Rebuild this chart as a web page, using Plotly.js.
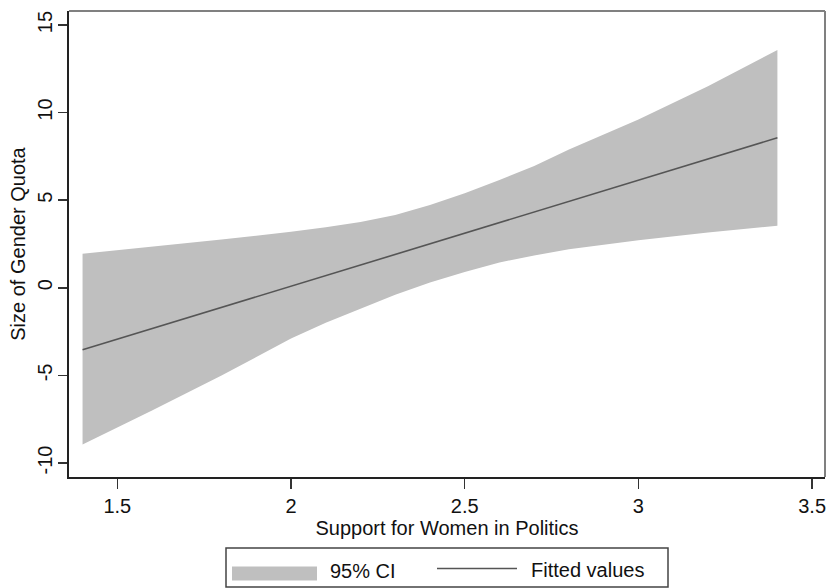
<!DOCTYPE html>
<html>
<head>
<meta charset="utf-8">
<script src="https://cdn.plot.ly/plotly-3.0.1.min.js"></script>
<style>html,body{margin:0;padding:0;background:#fff;}#chart{width:832px;height:588px;}</style>
</head>
<body>
<div id="chart"></div>
<script>
// Data
const xs       = [1.4, 1.6, 1.8, 2.0, 2.1, 2.2, 2.3, 2.4, 2.5, 2.6, 2.7, 2.8, 3.0, 3.2, 3.4];
const ciLower  = [-8.95, -7.0, -5.0, -2.9, -2.0, -1.2, -0.4, 0.3, 0.9, 1.45, 1.85, 2.2, 2.72, 3.16, 3.54];
const ciUpper  = [1.95, 2.35, 2.75, 3.2, 3.45, 3.75, 4.15, 4.73, 5.4, 6.15, 6.95, 7.9, 9.6, 11.5, 13.58];
const fitted   = [-3.54, -2.33, -1.12, 0.09, 0.7, 1.3, 1.9, 2.51, 3.12, 3.72, 4.32, 4.93, 6.14, 7.35, 8.56];
const xTickVals = [1.5, 2, 2.5, 3, 3.5];
const xTickText = ["1.5", "2", "2.5", "3", "3.5"];
const yTickVals = [-10, -5, 0, 5, 10, 15];
const yTickText = ["-10", "-5", "0", "5", "10", "15"];
const legendLabels = ["95% CI", "Fitted values"];

const FONT = "Liberation Sans, Arial, Helvetica, sans-serif";
const FS = 20;
const L = 69, R = 825, T = 11, B = 477;
const W = R - L, H = B - T;
const px = x => (x - L) / W;
const py = y => (B - y) / H;

const band = {
  x: xs.concat(xs.slice().reverse()),
  y: ciUpper.concat(ciLower.slice().reverse()),
  type: 'scatter', mode: 'lines', fill: 'toself',
  fillcolor: '#bfbfbf', line: {width: 0, color: '#bfbfbf'},
  hoverinfo: 'skip', showlegend: false, name: legendLabels[0]
};
const line = {
  x: xs, y: fitted, type: 'scatter', mode: 'lines',
  line: {color: '#555555', width: 1.6}, showlegend: false, name: legendLabels[1]
};

const layout = {
  width: 832, height: 588,
  margin: {l: L, r: 832 - R, t: T, b: 588 - B, pad: 0},
  paper_bgcolor: '#ffffff', plot_bgcolor: '#ffffff',
  showlegend: false,
  font: {family: FONT, size: FS, color: '#111'},
  xaxis: {
    range: [1.361, 3.537], tickvals: xTickVals, ticktext: xTickText,
    ticks: 'outside', ticklen: 10, tickwidth: 1.5, tickcolor: '#333',
    showline: true, linecolor: '#222', linewidth: 2,
    showgrid: false, zeroline: false,
    tickfont: {family: FONT, size: FS, color: '#111'},
    title: {text: 'Support for Women in Politics', font: {family: FONT, size: FS, color: '#111'}, standoff: 2}
  },
  yaxis: {
    range: [-10.8, 15.8], tickvals: yTickVals, ticktext: yTickText,
    ticks: 'outside', ticklen: 9, tickwidth: 1.5, tickcolor: '#333',
    showline: true, linecolor: '#222', linewidth: 2,
    showgrid: false, zeroline: false, tickangle: -90, ticklabelstandoff: -2,
    tickfont: {family: FONT, size: FS, color: '#111'},
    title: {text: 'Size of Gender Quota', font: {family: FONT, size: FS, color: '#111'}, standoff: 3}
  },
  shapes: [
    {type: 'line', xref: 'paper', yref: 'paper', x0: 0, x1: 1, y0: 1, y1: 1, line: {color: '#808080', width: 2}},
    {type: 'line', xref: 'paper', yref: 'paper', x0: 1, x1: 1, y0: 0, y1: 1, line: {color: '#808080', width: 2}},
    {type: 'rect', xref: 'paper', yref: 'paper', x0: px(226), x1: px(668), y0: py(587), y1: py(548), line: {color: '#444', width: 1.5}, fillcolor: 'rgba(0,0,0,0)'},
    {type: 'rect', xref: 'paper', yref: 'paper', x0: px(232), x1: px(317), y0: py(580.5), y1: py(566.5), line: {width: 0}, fillcolor: '#bfbfbf'},
    {type: 'line', xref: 'paper', yref: 'paper', x0: px(437), x1: px(517), y0: py(568.5), y1: py(568.5), line: {color: '#555555', width: 1.6}}
  ],
  annotations: [
    {xref: 'paper', yref: 'paper', x: px(328), y: py(571), xanchor: 'left', yanchor: 'middle', showarrow: false, text: legendLabels[0], font: {family: FONT, size: FS, color: '#111'}},
    {xref: 'paper', yref: 'paper', x: px(529), y: py(570), xanchor: 'left', yanchor: 'middle', showarrow: false, text: legendLabels[1], font: {family: FONT, size: FS, color: '#111'}}
  ]
};

Plotly.newPlot('chart', [band, line], layout, {displayModeBar: false, staticPlot: true});
</script>
</body>
</html>
